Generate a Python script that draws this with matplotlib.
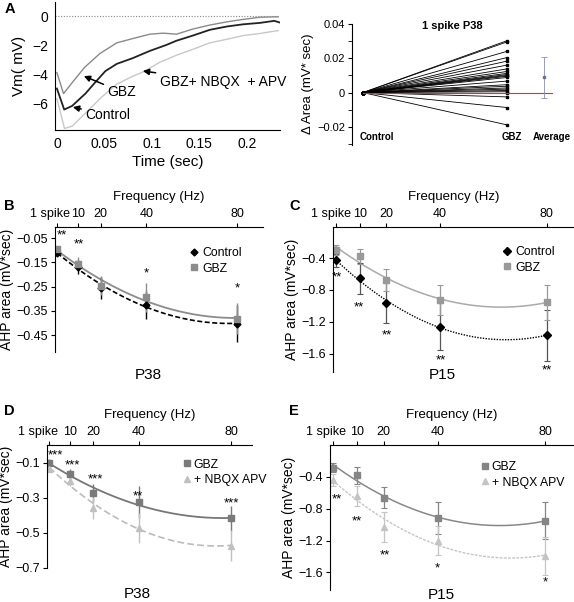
import numpy as np
import matplotlib
matplotlib.use("Agg")
import matplotlib.pyplot as plt
from matplotlib.transforms import ScaledTranslation

plt.rcParams['font.family'] = ['Liberation Sans', 'DejaVu Sans']

# ---- panel A left: averaged AHP traces ----
t_gbz = [0.0, 0.007, 0.016, 0.029, 0.045, 0.063, 0.08, 0.098, 0.112, 0.126, 0.143, 0.161, 0.179, 0.196, 0.214, 0.233]
v_gbz = [-3.9, -5.35, -4.6, -3.55, -2.6, -1.85, -1.55, -1.25, -1.18, -1.25, -0.9, -0.62, -0.4, -0.23, -0.08, -0.05]
t_ctl = [0.0, 0.0077, 0.016, 0.03, 0.04, 0.051, 0.063, 0.08, 0.098, 0.115, 0.126, 0.143, 0.161, 0.179, 0.196, 0.214, 0.229, 0.235]
v_ctl = [-5.0, -6.45, -6.2, -5.35, -4.6, -3.8, -3.3, -2.9, -2.4, -2.0, -1.7, -1.35, -0.95, -0.72, -0.57, -0.47, -0.33, -0.45]
t_nbqx = [0.0, 0.008, 0.016, 0.03, 0.047, 0.063, 0.08, 0.091, 0.108, 0.126, 0.143, 0.161, 0.179, 0.196, 0.214, 0.233]
v_nbqx = [-5.7, -7.75, -7.6, -6.7, -5.6, -4.7, -4.15, -3.85, -3.2, -2.7, -2.3, -1.85, -1.6, -1.35, -1.2, -1.0]

# ---- panel A right: per-cell change in area ----
delta_gbz = [0.0302, 0.0295, 0.024, 0.0204, 0.0183, 0.016, 0.0138, 0.0123, 0.0112, 0.0105, 0.010,
             0.0095, 0.0088, 0.0067, 0.0046, 0.0037, 0.0027, 0.002, 0.0012, 0.0005, 0.0, -0.0025,
             -0.0087, -0.0188]
avg_mean = 0.0088
avg_err = 0.0118

# ---- panels B-E ----
freq = [1, 10, 20, 40, 80]
freq_labels = ['1 spike', '10', '20', '40', '80']

b_ctl = [-0.11, -0.17, -0.257, -0.325, -0.403]
b_ctl_err = [0.01, 0.028, 0.045, 0.058, 0.075]
b_gbz = [-0.096, -0.155, -0.246, -0.294, -0.382]
b_gbz_err = [0.01, 0.028, 0.04, 0.06, 0.065]
b_stars = ['**', '**', '*', '*']

c_ctl = [-0.43, -0.655, -0.966, -1.26, -1.37]
c_ctl_err = [0.08, 0.19, 0.25, 0.29, 0.32]
c_gbz = [-0.30, -0.38, -0.675, -0.925, -0.955]
c_gbz_err = [0.06, 0.1, 0.14, 0.19, 0.22]
c_stars = ['**', '**', '**', '**', '**']

d_gbz = [-0.10, -0.164, -0.272, -0.325, -0.418]
d_gbz_err = [0.02, 0.03, 0.05, 0.09, 0.07]
d_nbqx = [-0.136, -0.204, -0.36, -0.47, -0.572]
d_nbqx_err = [0.015, 0.03, 0.062, 0.085, 0.09]
d_stars = ['***', '***', '***', '**', '***']

e_gbz = [-0.284, -0.38, -0.66, -0.92, -0.95]
e_gbz_err = [0.06, 0.11, 0.135, 0.2, 0.23]
e_nbqx = [-0.44, -0.64, -1.03, -1.2, -1.39]
e_nbqx_err = [0.07, 0.125, 0.19, 0.18, 0.24]
e_stars = ['**', '**', '**', '*', '*']

W, H = 574, 602
STAR = 9.5


def box(l, t, r, b):
    return [l / W, 1 - b / H, (r - l) / W, (b - t) / H]


def fit(x, y):
    c = np.polyfit(x, y, 2)
    xs = np.linspace(x[0], x[-1], 200)
    return xs, np.polyval(c, xs)


def freq_axis(ax, xmax, ylim, yticks, spike_shift):
    ax.set_xlim(0, xmax)
    ax.set_ylim(*ylim)
    ax.xaxis.tick_top()
    ax.xaxis.set_label_position('top')
    ax.set_xticks(freq)
    ax.set_xticklabels(freq_labels)
    ax.set_yticks(yticks)
    ax.set_yticklabels([('%g' % v).replace('-', '\u2212') for v in yticks])
    for s in ['right', 'bottom']:
        ax.spines[s].set_visible(False)
    ax.tick_params(axis='both', direction='out', length=3, width=0.8, labelsize=9, pad=2)
    ax.set_xlabel('Frequency (Hz)', fontsize=9.5, labelpad=6)
    ax.set_ylabel('AHP area (mV*sec)', fontsize=10, labelpad=2)
    lab = ax.get_xticklabels()[0]
    lab.set_transform(lab.get_transform() + ScaledTranslation(spike_shift / 100, 0, fig.dpi_scale_trans))


def add_legend(ax, x0, y0, hl):
    ax.legend(loc='upper left', bbox_to_anchor=(x0, y0), frameon=False, fontsize=8.8,
              handlelength=hl, handletextpad=0.25, labelspacing=0.3, borderaxespad=0,
              borderpad=0)


def stars(ax, xs, ys, marks):
    for xx, yy, s in zip(xs, ys, marks):
        ax.text(xx, yy, s, fontsize=STAR, ha='center', va='center')


fig = plt.figure(figsize=(5.74, 6.02), dpi=100)

# A left
ax = fig.add_axes(box(55, 2, 280, 130))
ax.axhline(0, color='#888888', lw=0.8, ls=(0, (1, 1.5)))
ax.plot(t_nbqx, v_nbqx, color='#c8c8c8', lw=1.0)
ax.plot(t_gbz, v_gbz, color='#8a8a8a', lw=1.0)
ax.plot(t_ctl, v_ctl, color='#222222', lw=1.3)
ax.set_xlim(-0.002, 0.235)
ax.set_ylim(-7.86, 0.97)
ax.set_xticks([0, 0.05, 0.1, 0.15, 0.2])
ax.set_xticklabels(['0', '0.05', '0.1', '0.15', '0.2'])
ax.set_yticks([0, -2, -4, -6])
ax.set_yticklabels(['0', '\u22122', '\u22124', '\u22126'])
ax.spines['top'].set_visible(False)
ax.spines['right'].set_visible(False)
ax.tick_params(length=0, labelsize=10, pad=5)
ax.set_xlabel('Time (sec)', fontsize=11, labelpad=3)
ax.set_ylabel('Vm( mV)', fontsize=11, labelpad=4)
arr = dict(arrowstyle='-|>', color='black', lw=1.1, mutation_scale=9, shrinkA=1, shrinkB=0)
ax.annotate('GBZ', xy=(0.0284, -4.14), xytext=(0.0684, -5.24), fontsize=10,
            ha='center', va='center', arrowprops=arr)
ax.annotate('Control', xy=(0.0168, -6.28), xytext=(0.0537, -6.83), fontsize=10,
            ha='center', va='center', arrowprops=arr)
ax.annotate('GBZ+ NBQX  + APV', xy=(0.0905, -3.79), xytext=(0.175, -4.55), fontsize=10,
            ha='center', va='center', arrowprops=arr)

# A right
ax = fig.add_axes(box(352, 23, 574, 145))
for d in delta_gbz:
    ax.plot([0, 1], [0, d], color='black', lw=0.6, marker='s', ms=1.5)
ax.plot([0, 1.31], [0, 0], color='#e03030', lw=0.8)
ax.errorbar([1.26], [avg_mean], yerr=[avg_err], fmt='s', ms=1.5, color='#6a7090',
            ecolor='#8a8fa8', elinewidth=0.6, capsize=2, capthick=0.6)
ax.set_xlim(-0.076, 1.465)
ax.set_ylim(-0.0305, 0.0405)
ax.set_yticks([-0.02, 0, 0.02, 0.04])
ax.set_yticklabels(['\u22120.02', '0', '0.02', '0.04'])
ax.set_yticks([-0.03, -0.01, 0.01, 0.03], minor=True)
ax.set_xticks([])
for s in ['top', 'right', 'bottom']:
    ax.spines[s].set_visible(False)
ax.spines['left'].set_bounds(-0.0305, 0.04)
ax.tick_params(axis='y', which='both', direction='out', length=3, labelsize=8, pad=2)
ax.set_ylabel('\u0394 Area (mV* sec)', fontsize=9.5, labelpad=2)
ax.text(0.62, 0.0388, '1 spike P38', fontsize=8, fontweight='bold', ha='center', va='center')
for xx, lab in [(0.1, 'Control'), (1.03, 'GBZ'), (1.31, 'Average')]:
    ax.text(xx, -0.0258, lab, fontsize=7, fontweight='bold', ha='center', va='center')

# B
ax = fig.add_axes(box(55, 227, 263, 352))
xs, ys = fit(freq, b_gbz)
ax.plot(xs, ys, color='#8c8c8c', lw=1.3)
xs, ys = fit(freq, b_ctl)
ax.plot(xs, ys, color='black', lw=1.2, ls=(0, (3, 1.5)))
ax.errorbar(freq, b_ctl, yerr=b_ctl_err, fmt='D', ms=3.5, color='black', elinewidth=1.0, capsize=0)
ax.errorbar(freq, b_gbz, yerr=b_gbz_err, fmt='s', ms=5, color='#8c8c8c', elinewidth=1.0, capsize=0)
stars(ax, [2.8, 10.5, 40, 80], [-0.04, -0.076, -0.194, -0.256], b_stars)
freq_axis(ax, 91.2, (-0.52, -0.004), [-0.05, -0.15, -0.25, -0.35, -0.45], -7)
ax.plot([], [], 'D', ms=3.5, color='black', label='Control')
ax.plot([], [], 's', ms=5, color='#8c8c8c', label='GBZ')
add_legend(ax, 0.64, 0.84, 0.9)
fig.text(148 / W, 1 - 375 / H, 'P38', fontsize=11, ha='center', va='center')

# C
ax = fig.add_axes(box(333, 227, 574, 372))
xs, ys = fit(freq, c_gbz)
ax.plot(xs, ys, color='#aaaaaa', lw=1.1)
xs, ys = fit(freq, c_ctl)
ax.plot(xs, ys, color='black', lw=1.0, ls=(0, (1, 1)))
ax.errorbar(freq, c_ctl, yerr=c_ctl_err, fmt='D', ms=4, color='black', ecolor='#555555',
            elinewidth=0.9, capsize=2, capthick=0.8)
ax.errorbar(freq, c_gbz, yerr=c_gbz_err, fmt='s', ms=5, color='#999999', elinewidth=0.9,
            capsize=2, capthick=0.8)
stars(ax, [1.4, 9.8, 20, 40.5, 80], [-0.645, -1.025, -1.365, -1.685, -1.805], c_stars)
freq_axis(ax, 90.3, (-1.83, -0.01), [-0.4, -0.8, -1.2, -1.6], -5)
ax.plot([], [], 'D', ms=4, color='black', label='Control')
ax.plot([], [], 's', ms=5, color='#999999', label='GBZ')
add_legend(ax, 0.70, 0.87, 0.9)
fig.text(442 / W, 1 - 375 / H, 'P15', fontsize=11, ha='center', va='center')

# D
ax = fig.add_axes(box(47, 445, 252, 568))
xs, ys = fit(freq, d_gbz)
ax.plot(xs, ys, color='#777777', lw=1.3)
xs, ys = fit(freq, d_nbqx)
ax.plot(xs, ys, color='#bbbbbb', lw=1.2, ls=(0, (4, 2)))
ax.errorbar(freq, d_gbz, yerr=d_gbz_err, fmt='s', ms=5, color='#7a7a7a', elinewidth=1.0, capsize=0)
ax.errorbar(freq, d_nbqx, yerr=d_nbqx_err, fmt='^', ms=5, color='#c0c0c0', elinewidth=1.0, capsize=0)
stars(ax, [3.5, 11, 21, 39.4, 80], [-0.06, -0.117, -0.195, -0.29, -0.335], d_stars)
freq_axis(ax, 89, (-0.70, 0.0), [-0.1, -0.3, -0.5, -0.7], -11)
ax.plot([], [], 's', ms=5, color='#7a7a7a', label='GBZ')
ax.plot([], [], '^', ms=5, color='#c0c0c0', label='+ NBQX APV')
add_legend(ax, 0.665, 0.89, 0.6)
fig.text(137 / W, 1 - 594 / H, 'P38', fontsize=11, ha='center', va='center')

# E
ax = fig.add_axes(box(330, 445, 574, 590))
xs, ys = fit(freq, e_gbz)
ax.plot(xs, ys, color='#888888', lw=1.1)
xs, ys = fit(freq, e_nbqx)
ax.plot(xs, ys, color='#c4c4c4', lw=1.0, ls=(0, (2, 1)))
ax.errorbar(freq, e_gbz, yerr=e_gbz_err, fmt='s', ms=5, color='#858585', elinewidth=0.9,
            capsize=2, capthick=0.8)
ax.errorbar(freq, e_nbqx, yerr=e_nbqx_err, fmt='^', ms=5, color='#c4c4c4', elinewidth=0.9,
            capsize=2, capthick=0.8)
stars(ax, [2.5, 10, 20.4, 40, 80], [-0.685, -0.965, -1.385, -1.555, -1.725], e_stars)
freq_axis(ax, 90.7, (-1.82, 0.0), [-0.4, -0.8, -1.2, -1.6], -7)
ax.plot([], [], 's', ms=5, color='#858585', label='GBZ')
ax.plot([], [], '^', ms=5, color='#c4c4c4', label='+ NBQX APV')
add_legend(ax, 0.62, 0.89, 0.6)
fig.text(441 / W, 1 - 595 / H, 'P15', fontsize=11, ha='center', va='center')

# panel letters
for x, y, s in [(5, 9, 'A'), (4, 206, 'B'), (289, 206, 'C'), (4, 411, 'D'), (289, 411, 'E')]:
    fig.text(x / W, 1 - y / H, s, fontsize=10.5, fontweight='bold', ha='left', va='center')

fig.savefig('out.png', dpi=100)
